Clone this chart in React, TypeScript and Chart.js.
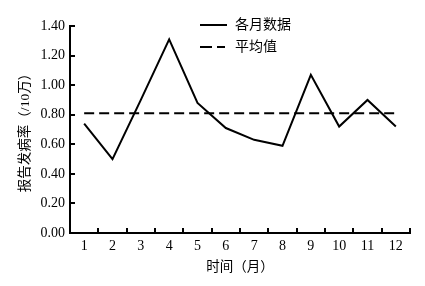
import React, { useEffect, useRef } from "react";
import { Chart, registerables } from "chart.js";

Chart.register(...registerables);

const MONTHS = ["1", "2", "3", "4", "5", "6", "7", "8", "9", "10", "11", "12"];
const MONTHLY_RATE = [0.74, 0.5, 0.9, 1.31, 0.88, 0.71, 0.63, 0.59, 1.07, 0.72, 0.9, 0.72];
const MEAN_RATE = 0.81;
const SERIES_LABELS = ["各月数据", "平均值"];
const X_TITLE = "时间（月）";
const Y_TITLE = "报告发病率（/10万）";

const SERIF = '"Liberation Serif", "Noto Sans CJK SC", serif';

const legendPlugin = {
  id: "innerLegend",
  afterDraw(chart: any) {
    const { ctx, chartArea } = chart;
    const x0 = chartArea.left + 130;
    const y0 = chartArea.top - 1;
    ctx.save();
    chart.data.datasets.forEach((ds: any, i: number) => {
      const y = y0 + i * 22;
      const dashed = ds.borderDash && ds.borderDash.length;
      ctx.beginPath();
      ctx.strokeStyle = "#000";
      ctx.lineWidth = 2;
      ctx.setLineDash(dashed ? [12, 5] : []);
      ctx.moveTo(x0, y);
      ctx.lineTo(x0 + (dashed ? 25 : 27), y);
      ctx.stroke();
      ctx.setLineDash([]);
      ctx.fillStyle = "#000";
      ctx.font = '14px "Liberation Serif", "Noto Sans CJK SC", serif';
      ctx.textBaseline = "middle";
      ctx.textAlign = "left";
      ctx.fillText(ds.label, x0 + 35, y);
    });
    ctx.restore();
  },
};

export default function App() {
  const ref = useRef<HTMLCanvasElement | null>(null);
  useEffect(() => {
    document.body.style.margin = "0";
    const canvas = ref.current;
    if (!canvas) return;
    const chart = new Chart(canvas, {
      type: "line",
      data: {
        labels: MONTHS,
        datasets: [
          {
            label: SERIES_LABELS[0],
            data: MONTHLY_RATE,
            borderColor: "#000",
            borderWidth: 2,
            pointRadius: 0,
            tension: 0,
            fill: false,
          },
          {
            label: SERIES_LABELS[1],
            data: MONTHS.map(() => MEAN_RATE),
            borderColor: "#000",
            borderWidth: 2,
            borderDash: [10, 5],
            pointRadius: 0,
            tension: 0,
            fill: false,
          },
        ],
      },
      options: {
        responsive: false,
        animation: false,
        layout: { padding: { top: 26, right: 15, bottom: 0, left: 0 } },
        plugins: {
          legend: { display: false },
          tooltip: { enabled: false },
        },
        scales: {
          x: {
            type: "category",
            offset: true,
            grid: {
              offset: true,
              drawOnChartArea: false,
              drawTicks: true,
              tickLength: -5,
              color: "#000",
              lineWidth: 2,
            },
            border: { color: "#000", width: 2 },
            ticks: {
              color: "#000",
              padding: 10,
              maxRotation: 0,
              autoSkip: false,
              font: { family: SERIF, size: 14 },
            },
            title: {
              display: true,
              text: X_TITLE,
              color: "#000",
              padding: { top: 0, bottom: 10 },
              font: { family: SERIF, size: 13.5 },
            },
            afterFit: (s: any) => {
              s.height = 53;
            },
          },
          y: {
            min: 0,
            max: 1.4,
            grid: {
              drawOnChartArea: false,
              drawTicks: true,
              tickLength: -5,
              color: "#000",
              lineWidth: 2,
            },
            border: { color: "#000", width: 2 },
            ticks: {
              stepSize: 0.2,
              color: "#000",
              padding: 10,
              font: { family: SERIF, size: 14 },
              callback: (v: any) => Number(v).toFixed(2),
            },
            title: {
              display: true,
              text: Y_TITLE,
              color: "#000",
              padding: { top: 17, bottom: 0 },
              font: { family: SERIF, size: 13.5 },
            },
            afterFit: (s: any) => {
              s.width = 70;
            },
          },
        },
      },
      plugins: [legendPlugin],
    });
    return () => chart.destroy();
  }, []);
  return (
    <div style={{ position: "fixed", left: 0, top: 0, background: "#fff" }}>
      <canvas ref={ref} width={425} height={286} style={{ width: 425, height: 286, display: "block" }} />
    </div>
  );
}
